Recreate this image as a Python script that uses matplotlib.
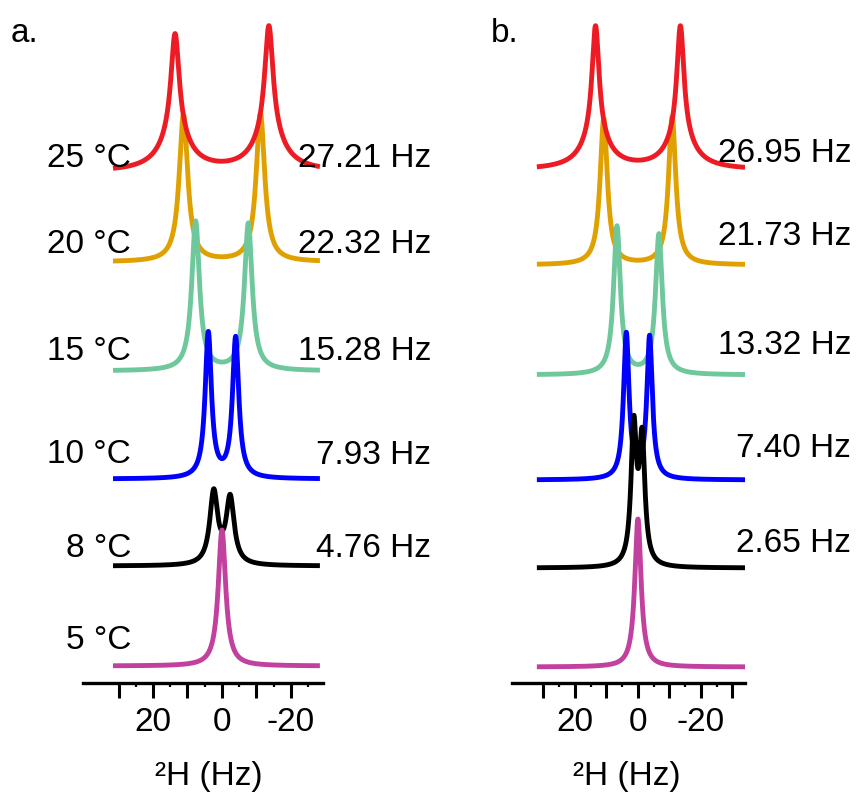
import numpy as np
import matplotlib
matplotlib.use("Agg")
import matplotlib.pyplot as plt

plt.rcParams['font.family'] = ['Liberation Sans', 'DejaVu Sans']

# ---- data -------------------------------------------------------------
temperatures = ['25 °C', '20 °C', '15 °C', '10 °C', '8 °C', '5 °C']
colors = ['#ed1c24', '#e0a000', '#6fc79c', '#0000ff', '#000000', '#c2409e']

# quadrupolar splittings (Hz); 5 °C is a single line
split_a = [27.21, 22.32, 15.28, 7.93, 4.76, 0.0]
split_b = [26.95, 21.73, 13.32, 7.40, 2.65, 0.0]
split_text_a = ['27.21 Hz', '22.32 Hz', '15.28 Hz', '7.93 Hz', '4.76 Hz']
split_text_b = ['26.95 Hz', '21.73 Hz', '13.32 Hz', '7.40 Hz', '2.65 Hz']

# line intensities (low-field, high-field), arbitrary units
amp_left_a = [137, 147, 149, 145, 72, 136]
amp_right_a = [145, 148, 147, 140, 66, 0]
amp_left_b = [143, 146, 148, 145, 136, 148]
amp_right_b = [143, 148, 140, 142, 122, 0]

# Lorentzian half widths (Hz) and fraction of broad wing component
hwhm_a = [1.45, 1.5, 1.35, 1.1, 1.4, 1.3]
hwhm_b = [1.35, 1.4, 1.3, 1.05, 1.05, 1.2]
wing_a = [0.25, 0.0, 0.0, 0.0, 0.0, 0.0]
wing_b = [0.22, 0.0, 0.0, 0.0, 0.0, 0.0]
WING_HWHM = 5.0

# spectral windows (Hz)
window_a = (31.6, -28.4)
window_b = (32.1, -34.0)

tick_major_a = [30, 20, 10, 0, -10, -20]
tick_labels_a = ['', '20', '', '0', '', '-20']
tick_major_b = [30, 20, 10, 0, -10, -20, -30]
tick_labels_b = ['', '20', '', '0', '', '-20', '']
tick_minor = [25, 15, 5, -5, -15, -25]

# ---- layout (pixels) --------------------------------------------------
W, H = 857, 801
AX_Y = 683                      # vertical position of the frequency axis
base_a = [172, 262, 371, 479, 566, 666]
base_b = [170, 265, 375, 480, 568, 667]
zorders = [6, 1, 2, 3, 4, 5]

fig = plt.figure(figsize=(W / 100, H / 100), dpi=100)


def lorentz(x, x0, g):
    return g * g / ((x - x0) ** 2 + g * g)


def line(x, x0, g, f):
    return (1 - f) * lorentz(x, x0, g) + f * lorentz(x, x0, WING_HWHM)


def make_axes(left_px, right_px, xlim, majors, labels):
    ax = fig.add_axes([left_px / W, (H - AX_Y) / H,
                       (right_px - left_px) / W, AX_Y / H])
    ax.set_xlim(*xlim)
    ax.set_ylim(0, AX_Y)
    for s in ('top', 'left', 'right'):
        ax.spines[s].set_visible(False)
    ax.spines['bottom'].set_linewidth(2.4)
    ax.set_yticks([])
    ax.set_xticks(majors)
    ax.set_xticklabels(labels)
    ax.set_xticks(tick_minor, minor=True)
    ax.tick_params(axis='x', which='major', direction='out', length=11,
                   width=2.2, pad=6, labelsize=24)
    ax.tick_params(axis='x', which='minor', direction='out', length=3,
                   width=1.6)
    ax.patch.set_alpha(0)
    return ax


def draw_stack(ax, splits, amp_l, amp_r, hwhm, wing, window, bases):
    x = np.linspace(window[0], window[1], 3000)
    for i in range(len(splits)):
        d = splits[i] / 2.0
        y = (amp_l[i] * line(x, d, hwhm[i], wing[i]) +
             amp_r[i] * line(x, -d, hwhm[i], wing[i]))
        ax.plot(x, (AX_Y - bases[i]) + y, color=colors[i], lw=3.5,
                solid_capstyle='butt', zorder=zorders[i])


ax_a = make_axes(83, 323, (40.3, -29.3), tick_major_a, tick_labels_a)
ax_b = make_axes(512, 745, (40.0, -34.0), tick_major_b, tick_labels_b)

draw_stack(ax_a, split_a, amp_left_a, amp_right_a, hwhm_a, wing_a,
           window_a, base_a)
draw_stack(ax_b, split_b, amp_left_b, amp_right_b, hwhm_b, wing_b,
           window_b, base_b)


def ftext(xp, yp, s, ha='left'):
    fig.text(xp / W, 1 - yp / H, s, ha=ha, va='baseline', fontsize=24)


# temperature labels
temp_baselines = [167, 253, 360, 463, 557, 649]
for t, yb in zip(temperatures, temp_baselines):
    ftext(131, yb, t, ha='right')

# splitting labels
split_y_a = [167, 253, 360, 464, 557]
split_y_b = [162, 245, 354, 457, 552]
for s, yb in zip(split_text_a, split_y_a):
    ftext(431, yb, s, ha='right')
for s, yb in zip(split_text_b, split_y_b):
    ftext(851, yb, s, ha='right')

# panel letters
ftext(11, 42, 'a.')
ftext(491, 42, 'b.')

# axis titles
ftext(209, 785, '²H (Hz)', ha='center')
ftext(627, 785, '²H (Hz)', ha='center')

fig.savefig('out.png', dpi=100)
